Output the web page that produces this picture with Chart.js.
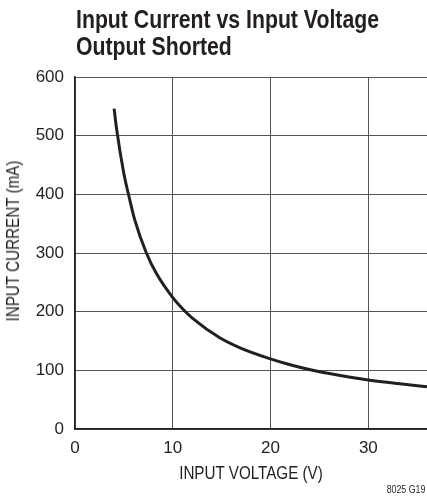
<!DOCTYPE html>
<html>
<head>
<meta charset="utf-8">
<script src="https://cdn.jsdelivr.net/npm/chart.js@4/dist/chart.umd.min.js"></script>
<style>
  html, body { margin: 0; padding: 0; background: #fff; }
  #wrap { position: relative; width: 427px; height: 501px; overflow: hidden; }
  canvas { position: absolute; left: 0; top: 0; }
  .txt {
    position: absolute; white-space: nowrap; color: #231f20;
    font-family: "Liberation Sans", Arial, sans-serif;
  }
  #title {
    left: 76px; top: 6px;
    font-weight: bold; font-size: 25px; line-height: 27px;
    transform: scaleX(0.85); transform-origin: left top;
  }
  #xtitle {
    left: 250.5px; top: 464px; font-size: 18px; line-height: 18px;
    transform: translateX(-50%) scaleX(0.845);
  }
  #ytitle {
    left: 12.5px; top: 241px; font-size: 18px; line-height: 18px;
    transform: translate(-50%, -50%) rotate(-90deg) scaleX(0.845);
  }
  #code {
    right: 2px; top: 483px; font-size: 11px; line-height: 13px;
    transform: scaleX(0.8); transform-origin: right top;
  }
</style>
</head>
<body>
<div id="wrap">
  <canvas id="chart" width="427" height="501"></canvas>
  <div class="txt" id="title">Input Current vs Input Voltage<br>Output Shorted</div>
  <div class="txt" id="xtitle">INPUT VOLTAGE (V)</div>
  <div class="txt" id="ytitle">INPUT CURRENT (mA)</div>
  <div class="txt" id="code">8025 G19</div>
</div>
<script>
// ----- data -----
const voltage = [4, 4.25, 5, 5.54, 6.12, 7.3, 8.33, 10, 11.05, 12, 14.8, 17, 19.9, 22, 24.3, 26, 28, 30, 33, 36];
const current = [546, 512, 435, 395, 356, 300, 265, 224, 204, 189, 155.5, 137.5, 120, 109.5, 100, 94.5, 88.6, 83.6, 77.5, 72];
const xTicks = [0, 10, 20, 30];
const yTicks = [0, 100, 200, 300, 400, 500, 600];

const FONT = "'Liberation Sans', Arial, sans-serif";
const INK = "#231f20";

const points = voltage.map((v, i) => ({ x: v, y: current[i] }));

new Chart(document.getElementById("chart"), {
  type: "scatter",
  data: {
    datasets: [{
      data: points,
      showLine: true,
      borderColor: INK,
      borderWidth: 3,
      pointRadius: 0,
      cubicInterpolationMode: "monotone",
      fill: false
    }]
  },
  options: {
    responsive: false,
    animation: false,
    events: [],
    layout: { padding: { top: 77, right: 0, bottom: 0, left: 0 } },
    plugins: { legend: { display: false }, tooltip: { enabled: false } },
    scales: {
      x: {
        type: "linear",
        min: 0,
        max: 36,
        afterBuildTicks: s => { s.ticks = xTicks.map(v => ({ value: v })); },
        afterFit: s => { s.height = 72; },
        grid: { color: "#555", lineWidth: 1, drawTicks: false },
        border: { color: INK, width: 1.5 },
        ticks: { color: INK, font: { family: FONT, size: 17 }, padding: 9, maxRotation: 0 }
      },
      y: {
        type: "linear",
        min: 0,
        max: 600,
        afterBuildTicks: s => { s.ticks = yTicks.map(v => ({ value: v })); },
        afterFit: s => { s.width = 75; },
        grid: { color: "#555", lineWidth: 1, drawTicks: false },
        border: { color: INK, width: 1.5 },
        ticks: { color: INK, font: { family: FONT, size: 17 }, padding: 11 }
      }
    }
  }
});
</script>
</body>
</html>
